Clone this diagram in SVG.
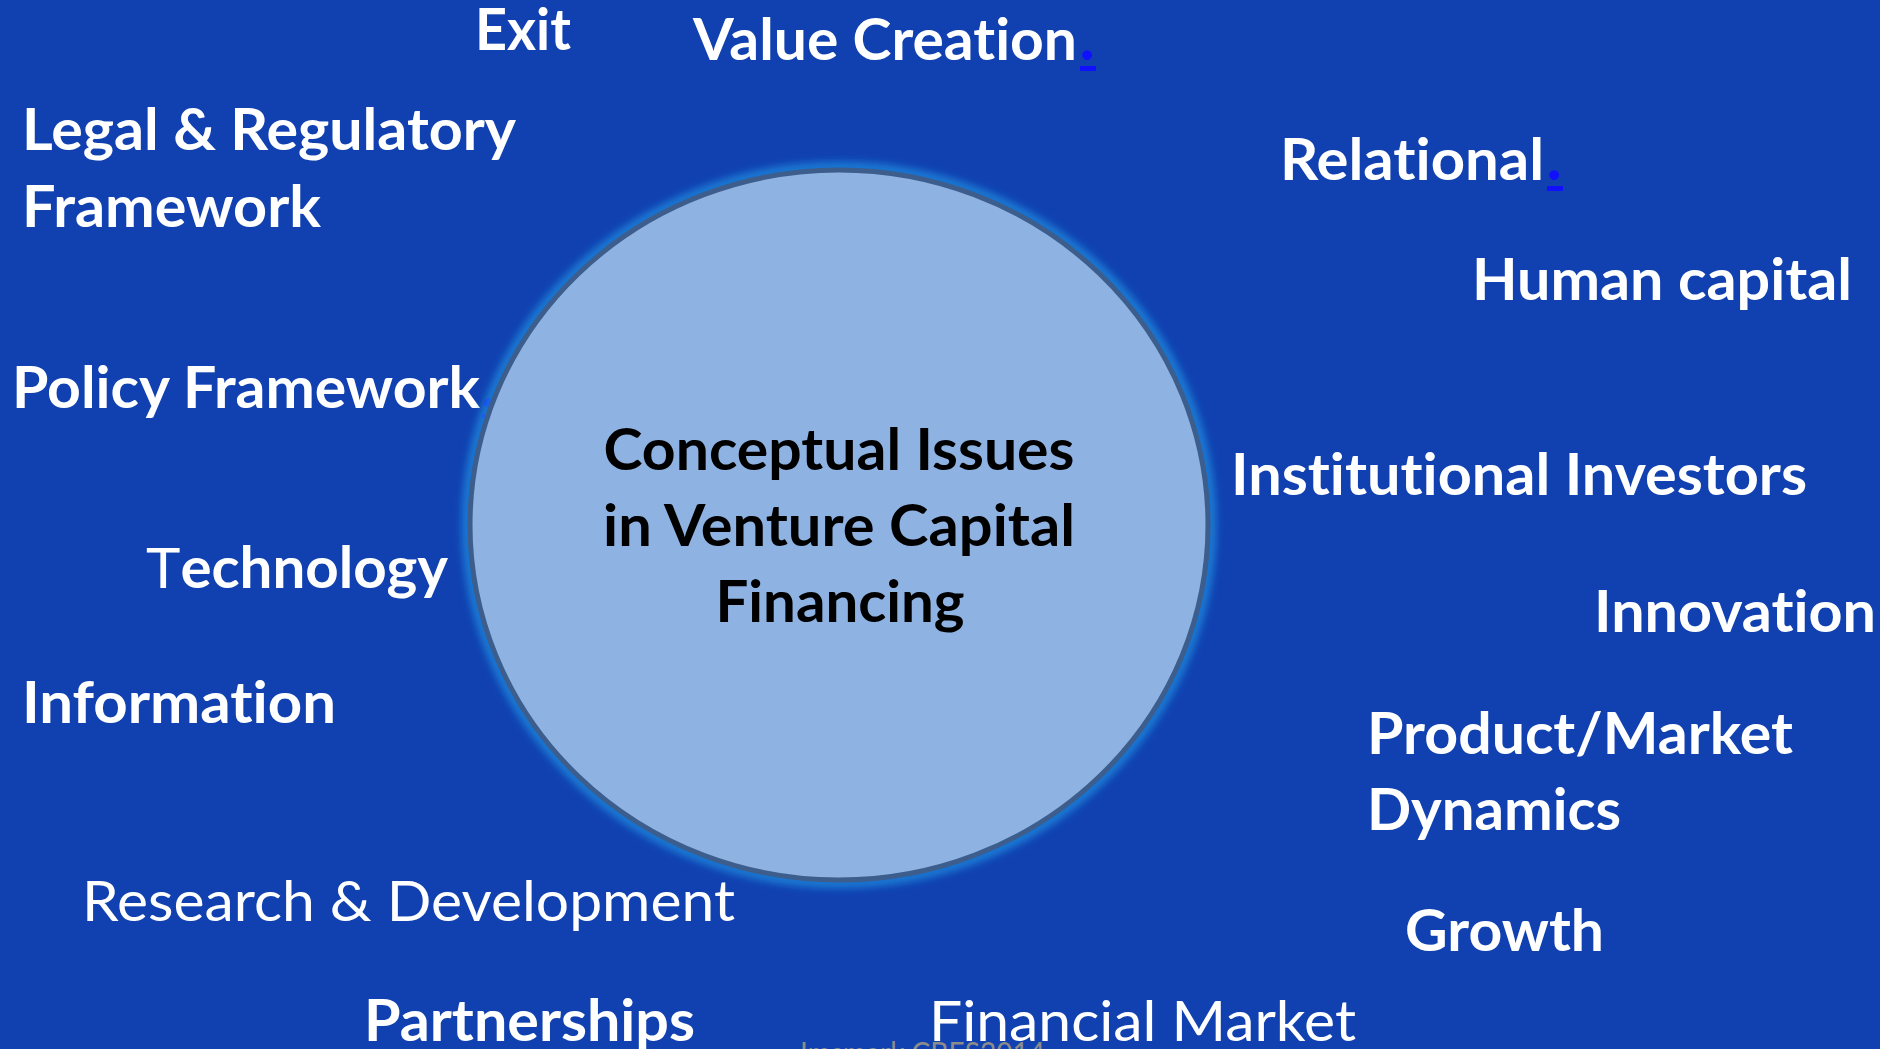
<svg xmlns="http://www.w3.org/2000/svg" width="1880" height="1049" viewBox="0 0 1880 1049">
<defs>
<style>
text{font-variant-ligatures:none;font-feature-settings:"liga" 0,"clig" 0}
.b{font-family:Lato,"Liberation Sans",sans-serif;font-weight:700;font-size:57px;fill:#ffffff}
.r{font-family:Lato,"Liberation Sans",sans-serif;font-weight:400;font-size:57px;fill:#ffffff}
.c{font-family:Lato,"Liberation Sans",sans-serif;font-weight:700;font-size:58px;fill:#000000;text-anchor:middle}
.lnk{font-family:Lato,"Liberation Sans",sans-serif;font-weight:900;font-size:60px;fill:#1010ff}
.ul{fill:#1010ff}
.wm{font-family:Lato,"Liberation Sans",sans-serif;font-weight:400;font-size:30px;fill:#8c8c8c}
</style>
<filter id="glow" x="-10%" y="-10%" width="120%" height="120%"><feGaussianBlur stdDeviation="4"/></filter>
</defs>
<rect width="1880" height="1049" fill="#1141B0"/>

<g id="exit"><text class="b" x="475" y="50" textLength="96" lengthAdjust="spacingAndGlyphs">Exit</text></g>
<g id="value-creation">
<text class="b" x="693" y="60" textLength="384" lengthAdjust="spacingAndGlyphs">Value Creation</text>
<text class="lnk" x="1080" y="60">.</text><rect class="ul" x="1080" y="66" width="16" height="5"/>
</g>
<g id="legal">
<text class="b" x="22" y="150" textLength="494" lengthAdjust="spacingAndGlyphs">Legal &amp; Regulatory</text>
<text class="b" x="22" y="227" textLength="299" lengthAdjust="spacingAndGlyphs">Framework</text>
</g>
<g id="relational">
<text class="b" x="1280" y="180" textLength="264" lengthAdjust="spacingAndGlyphs">Relational</text>
<text class="lnk" x="1547" y="180">.</text><rect class="ul" x="1547" y="186" width="16" height="5"/>
</g>
<g id="human-capital"><text class="b" x="1472" y="300" textLength="380" lengthAdjust="spacingAndGlyphs">Human capital</text></g>
<g id="policy">
<text class="lnk" x="482" y="408">.</text><rect class="ul" x="482" y="414" width="12" height="4"/>
<text class="b" x="12" y="408" textLength="468" lengthAdjust="spacingAndGlyphs">Policy Framework</text>
</g>
<g id="institutional"><text class="b" x="1231" y="495" textLength="576" lengthAdjust="spacingAndGlyphs">Institutional Investors</text></g>
<g id="technology"><text class="b" x="146" y="588" textLength="302" lengthAdjust="spacingAndGlyphs"><tspan font-weight="400">T</tspan>echnology</text></g>
<g id="innovation"><text class="b" x="1594" y="632" textLength="282" lengthAdjust="spacingAndGlyphs">Innovation</text></g>
<g id="information"><text class="b" x="22" y="723" textLength="314" lengthAdjust="spacingAndGlyphs">Information</text></g>
<g id="product-market">
<text class="b" x="1367" y="754" textLength="426" lengthAdjust="spacingAndGlyphs">Product/Market</text>
<text class="b" x="1367" y="830" textLength="254" lengthAdjust="spacingAndGlyphs">Dynamics</text>
</g>
<g id="rnd"><text class="r" x="82" y="921" textLength="653" lengthAdjust="spacingAndGlyphs">Research &amp; Development</text></g>
<g id="growth"><text class="b" x="1405" y="951" textLength="199" lengthAdjust="spacingAndGlyphs">Growth</text></g>
<g id="partnerships"><text class="b" x="364" y="1041" textLength="331" lengthAdjust="spacingAndGlyphs">Partnerships</text></g>
<g id="financial-market"><text class="r" x="929" y="1041" textLength="427" lengthAdjust="spacingAndGlyphs">Financial Market</text></g>
<g id="watermark"><text class="wm" x="800" y="1064" textLength="245" lengthAdjust="spacingAndGlyphs">Imsmark CBES2014</text></g>

<g id="hub">
<ellipse cx="839" cy="525" rx="372" ry="358" fill="none" stroke="#1E86DC" stroke-width="9" filter="url(#glow)"/>
<ellipse cx="839" cy="525" rx="369" ry="355" fill="#8EB2E2" stroke="#3D5E8C" stroke-width="5"/>
<text class="c" x="839" y="470" textLength="471" lengthAdjust="spacingAndGlyphs">Conceptual Issues</text>
<text class="c" x="839" y="546" textLength="472" lengthAdjust="spacingAndGlyphs">in Venture Capital</text>
<text class="c" x="840" y="622" textLength="249" lengthAdjust="spacingAndGlyphs">Financing</text>
</g>
</svg>
